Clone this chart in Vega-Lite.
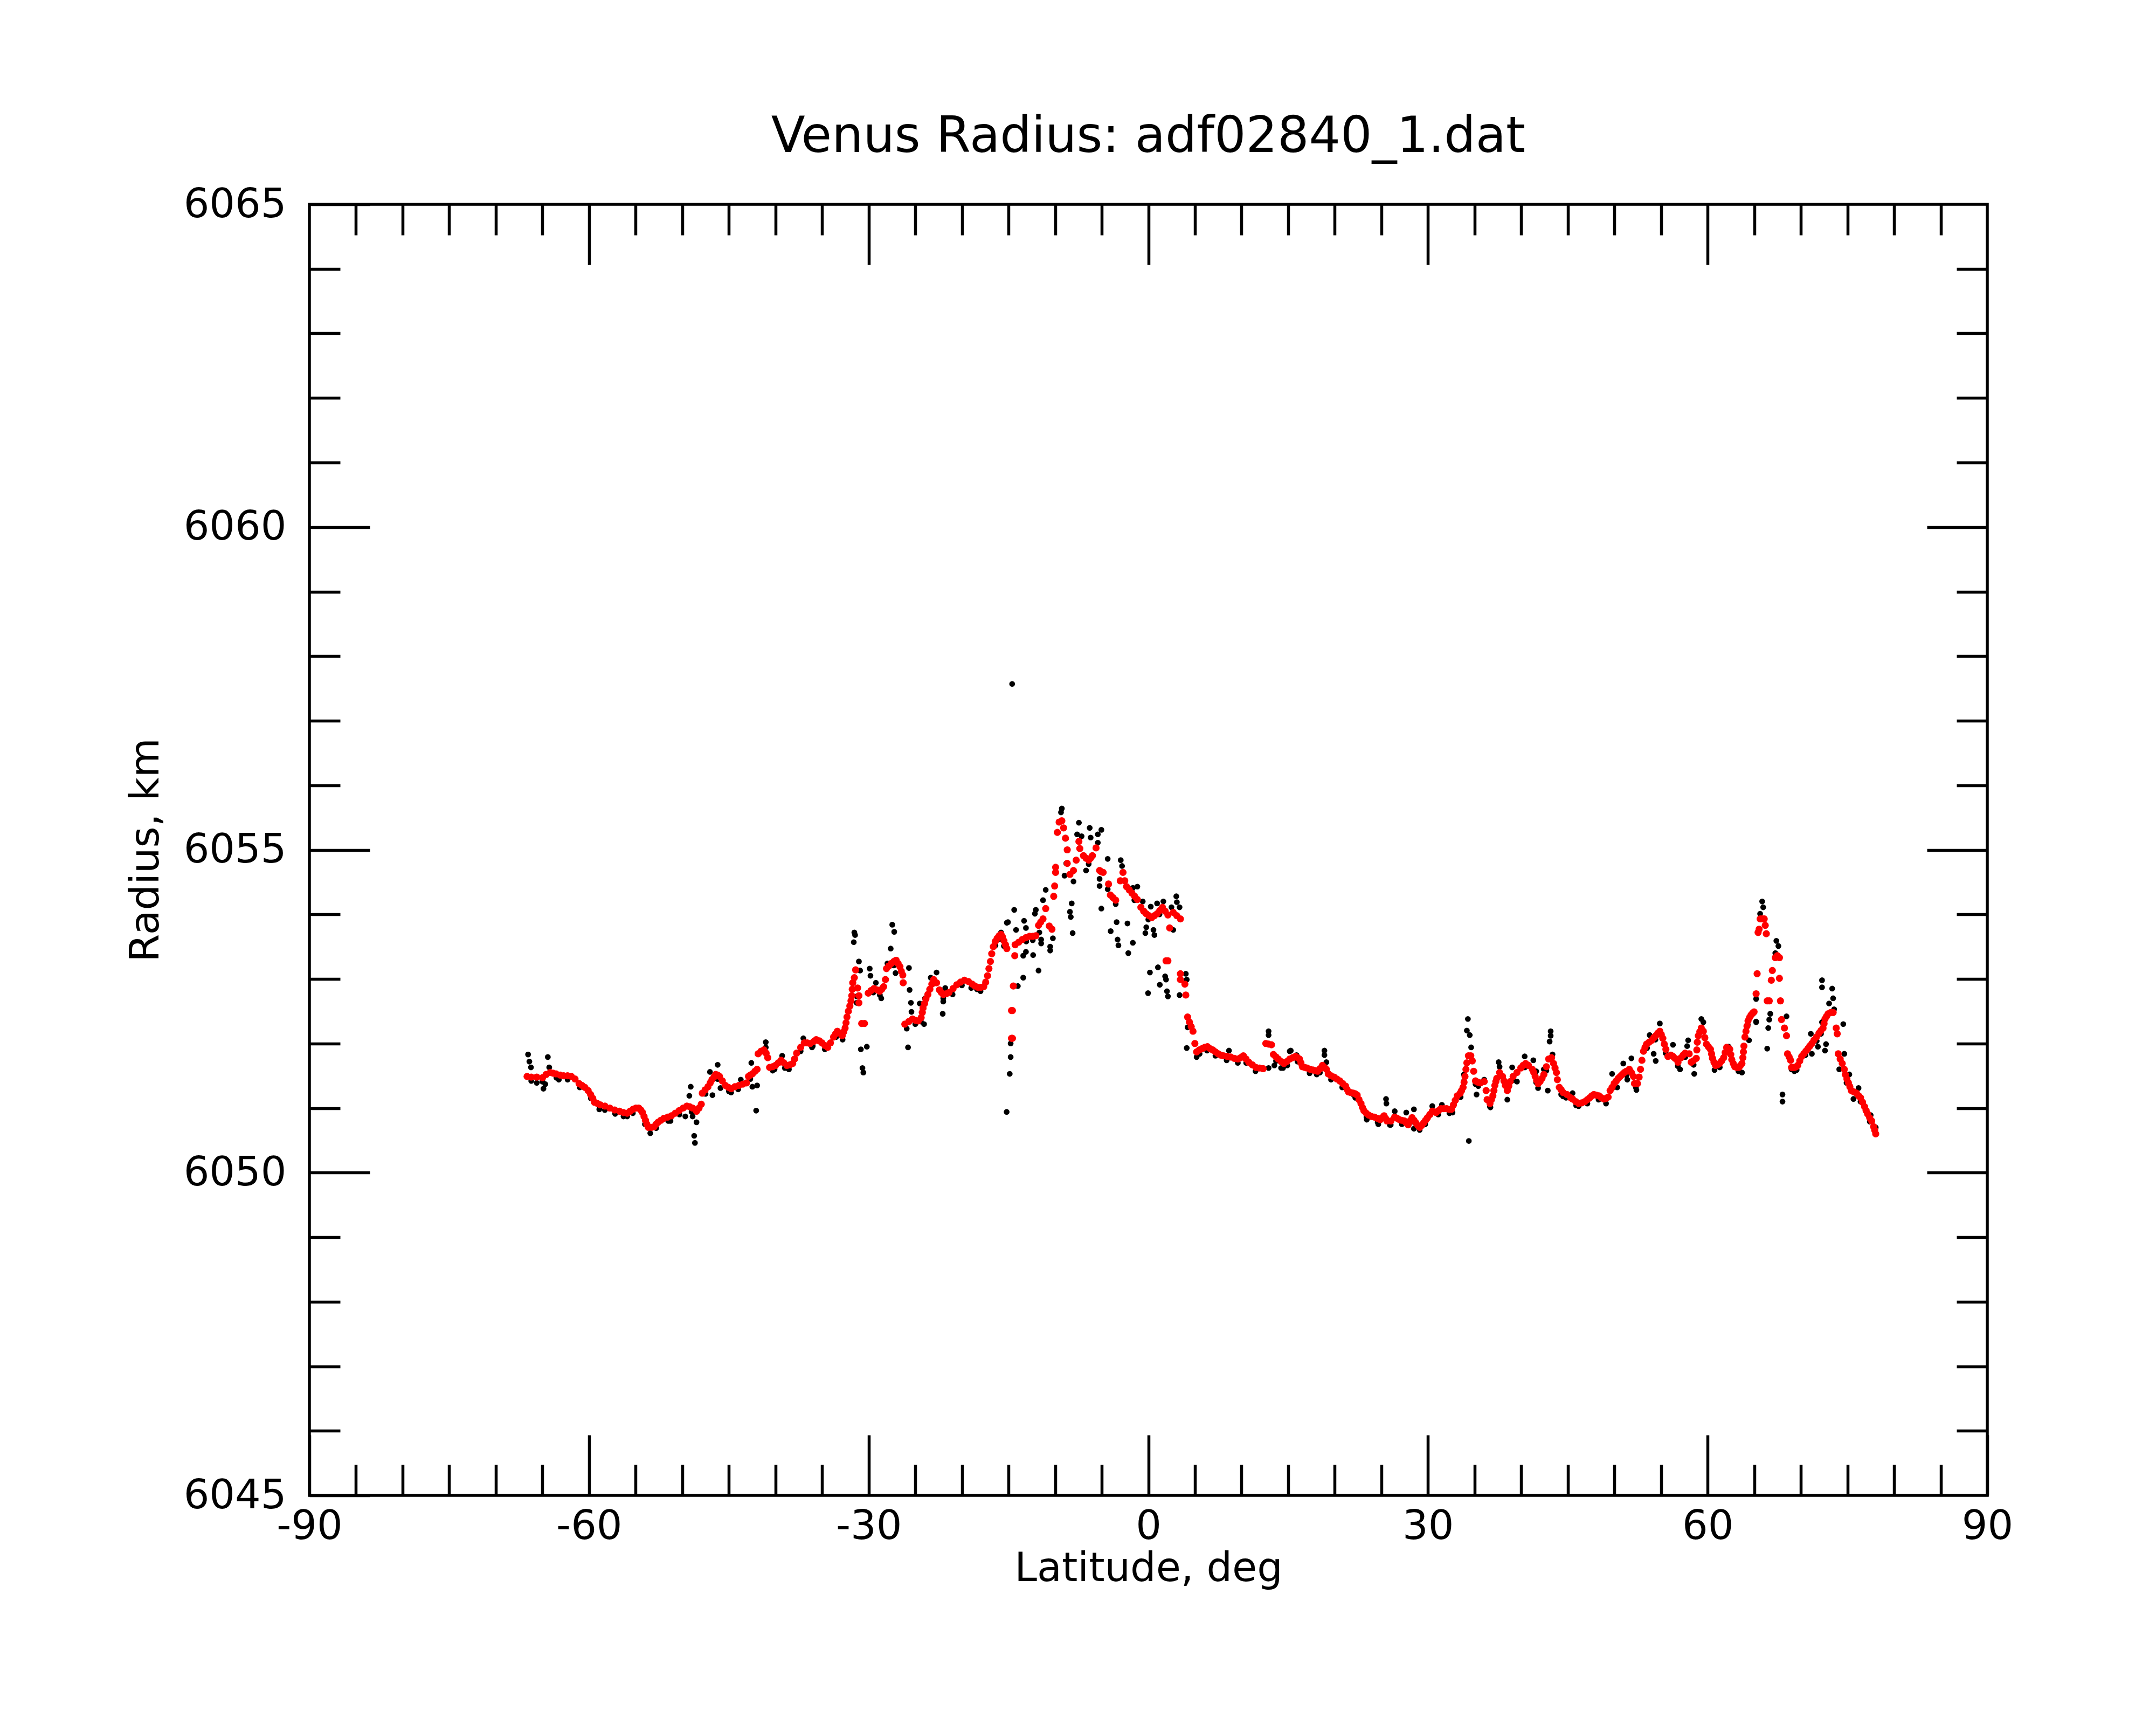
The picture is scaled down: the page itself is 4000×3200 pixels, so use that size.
{
"$schema": "https://vega.github.io/schema/vega-lite/v6.json",
"width": 3113, "height": 2395,
"autosize": {"type": "none"},
"padding": {"left": 574, "top": 379, "right": 313, "bottom": 426},
"background": "white",
"config": {
  "view": {"stroke": "black", "strokeWidth": 5.5, "fill": null},
  "font": "DejaVu Sans",
  "axis": {"grid": false, "domain": false, "tickColor": "black", "tickWidth": 5.5, "labelColor": "black", "titleColor": "black", "labelFont": "DejaVu Sans", "titleFont": "DejaVu Sans", "labelFontSize": 75, "titleFontSize": 75, "titleFontWeight": "normal", "labelFlush": false, "labelOverlap": false, "labelLimit": 0}
},
"title": {"text": "Venus Radius: adf02840_1.dat", "fontSize": 92, "fontWeight": "normal", "font": "DejaVu Sans", "color": "black", "anchor": "middle", "baseline": "alphabetic", "offset": -32, "frame": "group"},
"datasets": {
"raw": [
{"lat":-66.54,"r":6051.83},{"lat":-66.4,"r":6051.72},{"lat":-66.23,"r":6051.63},{"lat":-65.61,"r":6051.39},{"lat":-64.89,"r":6051.3},{"lat":-64.69,"r":6051.37},{"lat":-64.42,"r":6051.79},{"lat":-64.27,"r":6051.63},{"lat":-63.24,"r":6051.44},{"lat":-61.48,"r":6051.45},{"lat":-58.9,"r":6050.98},{"lat":-55.91,"r":6050.87},{"lat":-53.43,"r":6050.61},{"lat":-51.26,"r":6050.8},{"lat":-49.67,"r":6050.87},{"lat":-49.09,"r":6051.33},{"lat":-49.24,"r":6051.19},{"lat":-48.89,"r":6050.87},{"lat":-48.47,"r":6050.78},{"lat":-48.72,"r":6050.57},{"lat":-48.64,"r":6050.46},{"lat":-47.03,"r":6051.56},{"lat":-46.76,"r":6051.2},{"lat":-46.2,"r":6051.67},{"lat":-45.9,"r":6051.31},{"lat":-44.76,"r":6051.24},{"lat":-43.72,"r":6051.44},{"lat":-42.59,"r":6051.7},{"lat":-42.48,"r":6051.33},{"lat":-42.07,"r":6050.96},{"lat":-41.97,"r":6051.35},{"lat":-41.04,"r":6052.02},{"lat":-41.04,"r":6051.94},{"lat":-40.1,"r":6051.6},{"lat":-39.28,"r":6051.81},{"lat":-38.56,"r":6051.6},{"lat":-37.01,"r":6052.08},{"lat":-36.08,"r":6051.94},
{"lat":-31.54,"r":6053.72},{"lat":-31.46,"r":6053.68},{"lat":-31.6,"r":6053.57},{"lat":-31.05,"r":6053.27},{"lat":-30.92,"r":6053.13},{"lat":-31.29,"r":6052.73},{"lat":-31.29,"r":6052.63},{"lat":-30.84,"r":6051.91},{"lat":-30.2,"r":6051.95},{"lat":-30.67,"r":6051.62},{"lat":-30.57,"r":6051.55},{"lat":-29.89,"r":6053.16},{"lat":-29.81,"r":6053.05},{"lat":-29.23,"r":6052.94},{"lat":-28.65,"r":6052.7},{"lat":-27.47,"r":6053.84},{"lat":-27.26,"r":6053.73},{"lat":-27.64,"r":6053.47},{"lat":-27.99,"r":6053.24},{"lat":-27.12,"r":6053.09},{"lat":-25.68,"r":6053.17},{"lat":-25.61,"r":6052.83},{"lat":-25.47,"r":6052.63},{"lat":-25.41,"r":6052.49},{"lat":-25.92,"r":6052.23},{"lat":-25.78,"r":6051.94},{"lat":-24.06,"r":6052.3},{"lat":-24.52,"r":6052.62},{"lat":-23.96,"r":6052.7},{"lat":-23.34,"r":6053.02},{"lat":-22.72,"r":6053.1},{"lat":-22.0,"r":6052.65},{"lat":-22.06,"r":6052.46},{"lat":-21.79,"r":6052.86},{"lat":-18.38,"r":6052.84},{"lat":-15.8,"r":6053.72},{"lat":-15.18,"r":6053.87},{"lat":-15.49,"r":6053.51},{"lat":-15.2,"r":6050.94},{"lat":-14.61,"r":6057.57},
{"lat":-9.28,"r":6055.64},{"lat":-9.37,"r":6055.58},{"lat":-7.45,"r":6055.42},{"lat":-6.29,"r":6055.34},{"lat":-5.04,"r":6055.31},{"lat":-5.42,"r":6055.24},{"lat":-7.64,"r":6055.24},{"lat":-7.16,"r":6055.21},{"lat":-6.19,"r":6055.19},{"lat":-5.42,"r":6055.11},{"lat":-4.36,"r":6054.86},{"lat":-2.96,"r":6054.84},{"lat":-2.82,"r":6054.75},{"lat":-8.8,"r":6054.79},{"lat":-8.99,"r":6054.6},{"lat":-8.03,"r":6054.51},{"lat":-6.68,"r":6054.68},{"lat":-5.23,"r":6054.44},{"lat":-5.23,"r":6054.55},{"lat":-4.36,"r":6054.39},{"lat":-11.01,"r":6054.38},{"lat":-11.3,"r":6054.22},{"lat":-12.07,"r":6054.07},{"lat":-12.17,"r":6054.01},{"lat":-14.39,"r":6054.07},{"lat":-13.33,"r":6053.9},{"lat":-15.06,"r":6053.88},{"lat":-14.19,"r":6053.76},{"lat":-13.13,"r":6053.79},{"lat":-11.69,"r":6053.72},{"lat":-11.5,"r":6053.61},{"lat":-11.5,"r":6053.55},{"lat":-10.24,"r":6053.63},{"lat":-10.53,"r":6053.5},{"lat":-10.53,"r":6053.44},{"lat":-13.13,"r":6053.42},{"lat":-12.36,"r":6053.37},{"lat":-13.42,"r":6053.36},{"lat":-11.78,"r":6053.13},{"lat":-13.42,"r":6053.02},{"lat":-14.0,"r":6052.89},{"lat":-8.22,"r":6054.17},{"lat":-8.41,"r":6054.04},{"lat":-8.32,"r":6053.96},{"lat":-8.12,"r":6053.71},{"lat":-5.04,"r":6054.09},{"lat":-3.4,"r":6053.88},{"lat":-2.24,"r":6053.86},{"lat":-4.04,"r":6053.74},{"lat":-3.3,"r":6053.61},{"lat":-3.21,"r":6053.52},{"lat":-2.15,"r":6053.4},{"lat":-1.66,"r":6053.56},{"lat":-1.66,"r":6054.41},{"lat":-1.18,"r":6054.43},{"lat":-0.6,"r":6054.2},{"lat":0.26,"r":6054.12},{"lat":0.94,"r":6054.17},{"lat":1.61,"r":6054.2},{"lat":3.0,"r":6054.28},{"lat":3.06,"r":6054.19},{"lat":3.35,"r":6054.11},{"lat":2.48,"r":6054.11},{"lat":-0.22,"r":6053.8},{"lat":-0.32,"r":6053.71},{"lat":0.55,"r":6053.76},{"lat":0.65,"r":6053.68},{"lat":2.67,"r":6053.76},{"lat":0.17,"r":6053.1},{"lat":1.03,"r":6053.18},{"lat":1.8,"r":6053.04},{"lat":1.9,"r":6052.99},{"lat":1.23,"r":6052.91},{"lat":-0.03,"r":6052.78},{"lat":2.0,"r":6052.81},{"lat":2.1,"r":6052.73},{"lat":3.35,"r":6052.75},{"lat":4.02,"r":6053.08},{"lat":4.12,"r":6052.99},{"lat":4.21,"r":6052.25},{"lat":4.12,"r":6051.93},{"lat":5.18,"r":6051.79},{"lat":8.65,"r":6051.89},{"lat":-14.77,"r":6052.0},{"lat":-14.77,"r":6051.79},{"lat":-14.87,"r":6051.53},
{"lat":12.9,"r":6052.19},{"lat":12.9,"r":6052.13},{"lat":12.9,"r":6051.62},{"lat":13.52,"r":6051.66},{"lat":14.24,"r":6051.62},{"lat":14.45,"r":6051.62},{"lat":15.17,"r":6051.88},{"lat":15.28,"r":6051.89},{"lat":15.9,"r":6051.82},{"lat":18.06,"r":6051.52},{"lat":18.89,"r":6051.89},{"lat":18.89,"r":6051.82},{"lat":19.1,"r":6051.71},{"lat":21.99,"r":6051.21},{"lat":23.43,"r":6050.82},{"lat":24.67,"r":6050.75},{"lat":25.5,"r":6051.14},{"lat":25.54,"r":6051.07},{"lat":25.91,"r":6050.74},{"lat":26.43,"r":6050.95},{"lat":27.67,"r":6050.93},{"lat":28.49,"r":6050.98},{"lat":28.49,"r":6050.68},{"lat":29.11,"r":6050.66},{"lat":30.46,"r":6051.03},{"lat":31.49,"r":6051.05},{"lat":32.63,"r":6050.93},{"lat":33.35,"r":6051.21},{"lat":34.28,"r":6052.38},{"lat":34.17,"r":6052.2},{"lat":34.48,"r":6052.13},{"lat":34.63,"r":6051.94},{"lat":34.69,"r":6051.73},{"lat":33.86,"r":6051.52},{"lat":33.86,"r":6051.42},{"lat":34.38,"r":6050.49},{"lat":35.1,"r":6051.37},{"lat":35.21,"r":6051.21},{"lat":36.03,"r":6051.44},{"lat":36.24,"r":6051.27},{"lat":36.65,"r":6051.02},{"lat":37.58,"r":6051.71},{"lat":37.68,"r":6051.64},{"lat":38.51,"r":6051.13},{"lat":39.03,"r":6051.63},{"lat":39.54,"r":6051.41},{"lat":40.37,"r":6051.8},{"lat":41.3,"r":6051.74},{"lat":41.61,"r":6051.57},{"lat":41.81,"r":6051.31},{"lat":42.43,"r":6051.6},{"lat":43.16,"r":6052.19},{"lat":43.16,"r":6052.12},{"lat":43.05,"r":6052.03},{"lat":43.36,"r":6051.83},{"lat":42.85,"r":6051.27},{"lat":44.81,"r":6051.16},{"lat":44.29,"r":6051.21},
{"lat":65.85,"r":6054.2},{"lat":65.96,"r":6054.11},{"lat":65.63,"r":6054.01},{"lat":67.37,"r":6053.59},{"lat":67.59,"r":6053.51},{"lat":67.26,"r":6053.4},{"lat":65.2,"r":6052.69},{"lat":65.2,"r":6052.33},{"lat":66.72,"r":6052.46},{"lat":66.61,"r":6052.37},{"lat":66.5,"r":6052.24},{"lat":66.39,"r":6051.92},{"lat":68.46,"r":6052.42},{"lat":68.03,"r":6051.21},{"lat":68.03,"r":6051.1},{"lat":72.27,"r":6052.98},{"lat":72.27,"r":6052.87},{"lat":73.36,"r":6052.85},{"lat":73.46,"r":6052.7},{"lat":73.03,"r":6052.62},{"lat":73.57,"r":6052.53},{"lat":72.27,"r":6052.33},{"lat":72.16,"r":6052.15},{"lat":72.7,"r":6051.99},{"lat":72.59,"r":6051.89},{"lat":71.83,"r":6051.95},{"lat":71.07,"r":6052.15},{"lat":71.18,"r":6051.84},{"lat":74.55,"r":6052.3},{"lat":74.66,"r":6051.84},{"lat":74.12,"r":6051.6},{"lat":75.2,"r":6051.52},{"lat":76.19,"r":6051.31},{"lat":75.64,"r":6051.14},{"lat":77.49,"r":6050.89},{"lat":78.03,"r":6050.7},{"lat":54.87,"r":6052.31},{"lat":53.78,"r":6052.13},{"lat":54.21,"r":6051.84},{"lat":54.43,"r":6051.73},{"lat":56.28,"r":6051.98},{"lat":57.91,"r":6052.05},{"lat":57.8,"r":6051.96},{"lat":57.04,"r":6051.6},{"lat":58.56,"r":6051.53},{"lat":59.32,"r":6052.38},{"lat":59.54,"r":6052.33},{"lat":60.74,"r":6051.59},{"lat":62.26,"r":6051.95},{"lat":63.68,"r":6051.55},{"lat":64.44,"r":6052.05},{"lat":65.2,"r":6052.34},{"lat":64.87,"r":6052.46},{"lat":52.36,"r":6051.28},{"lat":50.3,"r":6051.32},{"lat":49.75,"r":6051.53},{"lat":50.95,"r":6051.69},{"lat":51.82,"r":6051.77},{"lat":51.38,"r":6051.44},{"lat":49.1,"r":6051.07},{"lat":45.51,"r":6051.23},{"lat":46.16,"r":6051.03},{"lat":69.0,"r":6051.6},{"lat":69.55,"r":6051.59},
{"lat":-66.2,"r":6051.42},{"lat":-65.0,"r":6051.41},{"lat":-63.5,"r":6051.47},{"lat":-62.3,"r":6051.44},{"lat":-61.0,"r":6051.32},{"lat":-59.8,"r":6051.15},{"lat":-58.3,"r":6050.97},{"lat":-57.2,"r":6050.91},{"lat":-56.3,"r":6050.87},{"lat":-55.3,"r":6050.92},{"lat":-54.0,"r":6050.75},{"lat":-52.8,"r":6050.69},{"lat":-51.5,"r":6050.8},{"lat":-50.3,"r":6050.9},{"lat":-49.0,"r":6050.94},{"lat":-47.5,"r":6051.22},{"lat":-46.2,"r":6051.45},{"lat":-45.0,"r":6051.26},{"lat":-44.0,"r":6051.29},{"lat":-42.7,"r":6051.45},{"lat":-40.3,"r":6051.58},{"lat":-39.0,"r":6051.62},{"lat":-37.3,"r":6051.88},{"lat":-36.0,"r":6051.96},{"lat":-34.7,"r":6051.91},{"lat":-33.5,"r":6052.1},{"lat":-32.8,"r":6052.06},{"lat":-29.5,"r":6052.79},{"lat":-28.8,"r":6052.75},{"lat":-27.3,"r":6053.21},{"lat":-25.0,"r":6052.3},{"lat":-24.4,"r":6052.34},{"lat":-23.0,"r":6052.93},{"lat":-22.0,"r":6052.7},{"lat":-21.0,"r":6052.76},{"lat":-20.0,"r":6052.9},{"lat":-19.0,"r":6052.86},{"lat":-18.0,"r":6052.81},{"lat":-16.4,"r":6053.52},{"lat":-15.9,"r":6053.62},{"lat":-13.1,"r":6053.58},{"lat":-12.4,"r":6053.6},{"lat":-6.4,"r":6054.78},{"lat":-3.5,"r":6054.16},{"lat":-1.5,"r":6054.22},{"lat":0.0,"r":6053.92},{"lat":1.2,"r":6054.0},{"lat":5.5,"r":6051.84},{"lat":6.3,"r":6051.89},{"lat":7.2,"r":6051.81},{"lat":8.4,"r":6051.74},{"lat":9.6,"r":6051.7},{"lat":10.5,"r":6051.7},{"lat":11.5,"r":6051.57},{"lat":13.7,"r":6051.73},{"lat":14.9,"r":6051.66},{"lat":16.0,"r":6051.72},{"lat":17.3,"r":6051.54},{"lat":18.4,"r":6051.55},{"lat":19.6,"r":6051.44},{"lat":20.8,"r":6051.32},{"lat":22.2,"r":6051.16},{"lat":23.4,"r":6050.86},{"lat":24.6,"r":6050.78},{"lat":26.0,"r":6050.74},{"lat":27.2,"r":6050.75},{"lat":28.3,"r":6050.79},{"lat":29.7,"r":6050.75},{"lat":31.1,"r":6050.9},{"lat":32.3,"r":6050.92},{"lat":33.5,"r":6051.17},{"lat":35.4,"r":6051.34},{"lat":36.7,"r":6051.01},{"lat":37.7,"r":6051.49},{"lat":39.1,"r":6051.43},{"lat":40.4,"r":6051.63},{"lat":41.6,"r":6051.4},{"lat":42.7,"r":6051.58},{"lat":44.5,"r":6051.18},{"lat":45.9,"r":6051.04},{"lat":47.1,"r":6051.07},{"lat":48.3,"r":6051.13},{"lat":49.9,"r":6051.32},{"lat":51.3,"r":6051.51},{"lat":52.3,"r":6051.32},{"lat":53.5,"r":6051.93},{"lat":54.4,"r":6052.06},{"lat":55.5,"r":6051.85},{"lat":56.8,"r":6051.65},{"lat":57.6,"r":6051.79},{"lat":58.5,"r":6051.67},{"lat":59.3,"r":6052.18},{"lat":60.4,"r":6051.84},{"lat":61.3,"r":6051.63},{"lat":62.4,"r":6051.85},{"lat":63.3,"r":6051.57},{"lat":64.3,"r":6052.29},{"lat":69.3,"r":6051.57},{"lat":70.5,"r":6051.82},{"lat":71.7,"r":6052.04},{"lat":74.9,"r":6051.39},{"lat":76.4,"r":6051.1},{"lat":77.4,"r":6050.79}
],
"smooth": [
{"lat":-66.65,"r":6051.49},{"lat":-66.2,"r":6051.48},{"lat":-65.61,"r":6051.48},{"lat":-64.99,"r":6051.47},{"lat":-64.6,"r":6051.52},{"lat":-64.17,"r":6051.55},{"lat":-63.85,"r":6051.54},{"lat":-63.55,"r":6051.53},{"lat":-63.1,"r":6051.51},{"lat":-62.72,"r":6051.5},{"lat":-62.3,"r":6051.5},{"lat":-61.9,"r":6051.49},{"lat":-61.5,"r":6051.45},{"lat":-61.07,"r":6051.38},{"lat":-60.75,"r":6051.35},{"lat":-60.45,"r":6051.32},{"lat":-60.1,"r":6051.27},{"lat":-59.83,"r":6051.21},{"lat":-59.6,"r":6051.15},{"lat":-59.42,"r":6051.09},{"lat":-59.1,"r":6051.07},{"lat":-58.8,"r":6051.05},{"lat":-58.3,"r":6051.03},{"lat":-57.77,"r":6051.0},{"lat":-57.25,"r":6050.97},{"lat":-56.73,"r":6050.95},{"lat":-56.3,"r":6050.93},{"lat":-55.91,"r":6050.92},{"lat":-55.6,"r":6050.95},{"lat":-55.29,"r":6050.98},{"lat":-54.97,"r":6051.0},{"lat":-54.67,"r":6051.0},{"lat":-54.45,"r":6050.97},{"lat":-54.26,"r":6050.93},{"lat":-54.1,"r":6050.87},{"lat":-53.95,"r":6050.81},{"lat":-53.8,"r":6050.75},{"lat":-53.64,"r":6050.7},{"lat":-53.3,"r":6050.7},{"lat":-53.02,"r":6050.71},{"lat":-52.8,"r":6050.75},{"lat":-52.6,"r":6050.78},{"lat":-52.3,"r":6050.81},{"lat":-51.98,"r":6050.84},{"lat":-51.55,"r":6050.86},{"lat":-51.16,"r":6050.88},{"lat":-50.75,"r":6050.92},{"lat":-50.33,"r":6050.96},{"lat":-49.9,"r":6051.0},{"lat":-49.51,"r":6051.03},{"lat":-49.2,"r":6051.02},{"lat":-48.89,"r":6051.0},{"lat":-48.47,"r":6050.95},{"lat":-48.2,"r":6051.0},{"lat":-47.96,"r":6051.06},{"lat":-47.85,"r":6051.23},{"lat":-47.55,"r":6051.28},{"lat":-47.24,"r":6051.33},{"lat":-47.0,"r":6051.39},{"lat":-46.82,"r":6051.44},{"lat":-46.6,"r":6051.48},{"lat":-46.41,"r":6051.52},{"lat":-46.2,"r":6051.51},{"lat":-46.0,"r":6051.49},{"lat":-45.7,"r":6051.42},{"lat":-45.37,"r":6051.35},{"lat":-45.05,"r":6051.32},{"lat":-44.76,"r":6051.3},{"lat":-44.35,"r":6051.33},{"lat":-43.93,"r":6051.35},{"lat":-43.5,"r":6051.37},{"lat":-43.1,"r":6051.39},{"lat":-42.9,"r":6051.49},{"lat":-42.7,"r":6051.51},{"lat":-42.48,"r":6051.53},{"lat":-42.2,"r":6051.57},{"lat":-41.97,"r":6051.6},{"lat":-41.86,"r":6051.84},{"lat":-41.55,"r":6051.88},{"lat":-41.24,"r":6051.9},{"lat":-41.0,"r":6051.85},{"lat":-40.83,"r":6051.78},{"lat":-40.63,"r":6051.63},{"lat":-40.3,"r":6051.64},{"lat":-40.0,"r":6051.66},{"lat":-39.7,"r":6051.7},{"lat":-39.39,"r":6051.74},{"lat":-39.1,"r":6051.7},{"lat":-38.77,"r":6051.66},{"lat":-38.45,"r":6051.67},{"lat":-38.15,"r":6051.69},{"lat":-37.95,"r":6051.76},{"lat":-37.73,"r":6051.85},{"lat":-37.3,"r":6051.94},{"lat":-36.91,"r":6052.01},{"lat":-36.6,"r":6052.01},{"lat":-36.29,"r":6052.0},{"lat":-35.9,"r":6052.03},
{"lat":-35.63,"r":6052.06},{"lat":-35.3,"r":6052.04},{"lat":-35.01,"r":6052.01},{"lat":-34.7,"r":6051.97},{"lat":-34.39,"r":6051.94},{"lat":-34.1,"r":6052.01},{"lat":-33.77,"r":6052.1},{"lat":-33.55,"r":6052.15},{"lat":-33.36,"r":6052.19},{"lat":-33.1,"r":6052.16},{"lat":-32.84,"r":6052.12},{"lat":-32.68,"r":6052.18},{"lat":-32.53,"r":6052.24},{"lat":-32.43,"r":6052.32},{"lat":-32.33,"r":6052.41},{"lat":-32.18,"r":6052.5},{"lat":-32.02,"r":6052.58},{"lat":-31.9,"r":6052.66},{"lat":-31.81,"r":6052.74},{"lat":-31.76,"r":6052.84},{"lat":-31.71,"r":6052.94},{"lat":-31.54,"r":6053.02},{"lat":-31.4,"r":6053.14},{"lat":-31.19,"r":6052.86},{"lat":-31.05,"r":6052.74},{"lat":-31.05,"r":6052.63},{"lat":-30.75,"r":6052.31},{"lat":-30.45,"r":6052.31},{"lat":-30.05,"r":6052.78},{"lat":-29.75,"r":6052.82},{"lat":-29.43,"r":6052.85},{"lat":-29.1,"r":6052.83},{"lat":-28.81,"r":6052.81},{"lat":-28.6,"r":6052.84},{"lat":-28.4,"r":6052.88},{"lat":-28.2,"r":6052.99},{"lat":-28.09,"r":6053.16},{"lat":-27.85,"r":6053.2},{"lat":-27.58,"r":6053.24},{"lat":-27.3,"r":6053.27},{"lat":-27.06,"r":6053.29},{"lat":-26.85,"r":6053.24},{"lat":-26.65,"r":6053.19},{"lat":-26.5,"r":6053.12},{"lat":-26.34,"r":6053.06},{"lat":-26.3,"r":6052.94},{"lat":-26.13,"r":6052.3},{"lat":-25.7,"r":6052.34},{"lat":-25.3,"r":6052.38},{"lat":-25.0,"r":6052.36},{"lat":-24.68,"r":6052.35},{"lat":-24.37,"r":6052.4},{"lat":-24.25,"r":6052.48},{"lat":-24.17,"r":6052.55},{"lat":-24.0,"r":6052.62},{"lat":-23.86,"r":6052.69},{"lat":-23.65,"r":6052.76},{"lat":-23.44,"r":6052.84},{"lat":-23.23,"r":6052.92},{"lat":-23.03,"r":6052.99},{"lat":-22.72,"r":6052.94},{"lat":-22.41,"r":6052.83},{"lat":-22.2,"r":6052.79},{"lat":-22.0,"r":6052.76},{"lat":-21.7,"r":6052.77},{"lat":-21.38,"r":6052.79},{"lat":-20.95,"r":6052.85},{"lat":-20.55,"r":6052.91},{"lat":-20.15,"r":6052.95},{"lat":-19.73,"r":6052.98},{"lat":-19.3,"r":6052.96},{"lat":-18.9,"r":6052.92},{"lat":-18.6,"r":6052.89},{"lat":-18.28,"r":6052.87},{"lat":-17.97,"r":6052.87},{"lat":-17.66,"r":6052.88},{"lat":-17.45,"r":6052.95},{"lat":-17.25,"r":6053.05},{"lat":-17.1,"r":6053.16},{"lat":-16.94,"r":6053.27},{"lat":-16.8,"r":6053.39},{"lat":-16.63,"r":6053.5},{"lat":-16.42,"r":6053.58},{"lat":-16.22,"r":6053.63},{"lat":-16.0,"r":6053.67},{"lat":-15.8,"r":6053.69},{"lat":-15.65,"r":6053.65},{"lat":-15.49,"r":6053.59},{"lat":-15.33,"r":6053.53},{"lat":-15.18,"r":6053.47},
{"lat":-14.68,"r":6052.51},{"lat":-14.58,"r":6052.51},{"lat":-14.68,"r":6052.08},{"lat":-14.58,"r":6052.08},{"lat":-14.48,"r":6052.89},{"lat":-14.33,"r":6053.36},{"lat":-14.29,"r":6053.53},{"lat":-13.9,"r":6053.57},{"lat":-13.52,"r":6053.61},{"lat":-13.13,"r":6053.64},{"lat":-12.75,"r":6053.66},{"lat":-12.4,"r":6053.66},{"lat":-12.07,"r":6053.67},{"lat":-11.78,"r":6053.83},{"lat":-11.55,"r":6053.88},{"lat":-11.3,"r":6053.93},{"lat":-11.01,"r":6054.09},{"lat":-10.63,"r":6053.82},{"lat":-10.34,"r":6053.77},{"lat":-10.15,"r":6054.28},{"lat":-10.05,"r":6054.44},{"lat":-9.95,"r":6054.65},{"lat":-9.95,"r":6054.73},{"lat":-9.76,"r":6055.27},{"lat":-9.57,"r":6055.43},{"lat":-9.28,"r":6055.45},{"lat":-9.09,"r":6055.34},{"lat":-8.89,"r":6055.18},{"lat":-8.7,"r":6055.0},{"lat":-8.7,"r":6054.79},{"lat":-8.41,"r":6054.62},{"lat":-8.03,"r":6054.68},{"lat":-7.74,"r":6054.84},{"lat":-7.45,"r":6055.13},{"lat":-7.35,"r":6055.02},{"lat":-6.96,"r":6054.91},{"lat":-6.68,"r":6054.87},{"lat":-6.39,"r":6054.84},{"lat":-6.2,"r":6054.87},{"lat":-6.0,"r":6054.91},{"lat":-5.61,"r":6055.03},{"lat":-5.23,"r":6054.68},{"lat":-5.04,"r":6054.66},{"lat":-4.85,"r":6054.65},{"lat":-4.27,"r":6054.47},{"lat":-4.07,"r":6054.3},{"lat":-3.8,"r":6054.26},{"lat":-3.5,"r":6054.22},{"lat":-3.01,"r":6054.52},{"lat":-2.72,"r":6054.65},{"lat":-2.53,"r":6054.52},{"lat":-2.34,"r":6054.43},{"lat":-2.05,"r":6054.38},{"lat":-1.76,"r":6054.33},{"lat":-1.47,"r":6054.28},{"lat":-1.18,"r":6054.23},{"lat":-0.8,"r":6054.11},{"lat":-0.5,"r":6054.05},{"lat":-0.22,"r":6054.01},{"lat":0.06,"r":6053.98},{"lat":0.36,"r":6053.95},{"lat":0.65,"r":6053.98},{"lat":0.94,"r":6054.01},{"lat":1.23,"r":6054.06},{"lat":1.52,"r":6054.11},{"lat":1.8,"r":6054.05},{"lat":2.1,"r":6053.99},{"lat":2.29,"r":6053.79},{"lat":2.67,"r":6054.03},{"lat":3.05,"r":6053.98},{"lat":3.44,"r":6053.93},{"lat":1.9,"r":6053.28},{"lat":2.1,"r":6053.28},{"lat":3.44,"r":6053.08},{"lat":3.44,"r":6052.99},{"lat":3.92,"r":6052.92},{"lat":4.02,"r":6052.75},{"lat":4.21,"r":6052.41},{"lat":4.41,"r":6052.33},{"lat":4.6,"r":6052.26},{"lat":4.79,"r":6052.19},{"lat":4.99,"r":6052.0},{"lat":5.18,"r":6051.87},{"lat":5.47,"r":6051.9},{"lat":5.76,"r":6051.92},{"lat":6.05,"r":6051.94},{"lat":6.34,"r":6051.95},{"lat":6.62,"r":6051.92},{"lat":6.91,"r":6051.9},{"lat":7.2,"r":6051.87},{"lat":7.49,"r":6051.84},{"lat":7.78,"r":6051.82},{"lat":8.07,"r":6051.81},{"lat":8.45,"r":6051.8},{"lat":8.84,"r":6051.79},{"lat":9.22,"r":6051.77},{"lat":9.61,"r":6051.76},{"lat":9.9,"r":6051.78},{"lat":10.19,"r":6051.81},{"lat":10.48,"r":6051.76},{"lat":10.77,"r":6051.71},{"lat":11.15,"r":6051.67},{"lat":11.54,"r":6051.63},{"lat":11.93,"r":6051.62},{"lat":12.31,"r":6051.61},{"lat":12.6,"r":6052.0},
{"lat":12.9,"r":6051.99},{"lat":13.21,"r":6051.98},{"lat":13.42,"r":6051.83},{"lat":13.7,"r":6051.79},{"lat":13.93,"r":6051.76},{"lat":14.25,"r":6051.72},{"lat":14.55,"r":6051.69},{"lat":14.85,"r":6051.72},{"lat":15.17,"r":6051.76},{"lat":15.48,"r":6051.78},{"lat":15.79,"r":6051.8},{"lat":16.0,"r":6051.78},{"lat":16.21,"r":6051.76},{"lat":16.37,"r":6051.7},{"lat":16.52,"r":6051.64},{"lat":16.78,"r":6051.63},{"lat":17.03,"r":6051.62},{"lat":17.35,"r":6051.6},{"lat":17.65,"r":6051.59},{"lat":17.9,"r":6051.58},{"lat":18.17,"r":6051.57},{"lat":18.42,"r":6051.61},{"lat":18.68,"r":6051.66},{"lat":18.9,"r":6051.63},{"lat":19.1,"r":6051.6},{"lat":19.3,"r":6051.53},{"lat":19.6,"r":6051.5},{"lat":19.92,"r":6051.48},{"lat":20.23,"r":6051.45},{"lat":20.54,"r":6051.42},{"lat":20.85,"r":6051.38},{"lat":21.16,"r":6051.34},{"lat":21.32,"r":6051.29},{"lat":21.47,"r":6051.25},{"lat":21.73,"r":6051.24},{"lat":21.99,"r":6051.23},{"lat":22.2,"r":6051.22},{"lat":22.4,"r":6051.2},{"lat":22.6,"r":6051.13},{"lat":22.81,"r":6051.07},{"lat":22.97,"r":6051.01},{"lat":23.12,"r":6050.96},{"lat":23.38,"r":6050.92},{"lat":23.64,"r":6050.89},{"lat":23.95,"r":6050.87},{"lat":24.26,"r":6050.86},{"lat":24.57,"r":6050.84},{"lat":24.88,"r":6050.82},{"lat":25.08,"r":6050.85},{"lat":25.29,"r":6050.88},{"lat":25.45,"r":6050.84},{"lat":25.6,"r":6050.8},{"lat":26.02,"r":6050.8},{"lat":26.43,"r":6050.86},{"lat":26.7,"r":6050.84},{"lat":26.94,"r":6050.82},{"lat":27.2,"r":6050.81},{"lat":27.46,"r":6050.8},{"lat":27.67,"r":6050.77},{"lat":27.87,"r":6050.74},{"lat":28.08,"r":6050.8},{"lat":28.29,"r":6050.85},{"lat":28.5,"r":6050.81},{"lat":28.7,"r":6050.77},{"lat":28.9,"r":6050.73},{"lat":29.11,"r":6050.7},{"lat":29.32,"r":6050.73},{"lat":29.53,"r":6050.77},{"lat":29.74,"r":6050.81},{"lat":29.94,"r":6050.85},{"lat":30.2,"r":6050.9},{"lat":30.46,"r":6050.95},{"lat":30.66,"r":6050.94},{"lat":30.87,"r":6050.93},{"lat":31.13,"r":6050.96},{"lat":31.39,"r":6050.99},{"lat":31.7,"r":6050.99},{"lat":32.0,"r":6050.99},{"lat":32.26,"r":6050.98},{"lat":32.52,"r":6050.98},{"lat":32.73,"r":6051.05},{"lat":32.93,"r":6051.12},{"lat":33.14,"r":6051.19},{"lat":33.45,"r":6051.23},{"lat":33.6,"r":6051.27},{"lat":33.76,"r":6051.32},{"lat":33.87,"r":6051.4},{"lat":33.97,"r":6051.49},{"lat":34.07,"r":6051.6},{"lat":34.17,"r":6051.7},{"lat":34.34,"r":6051.81},{"lat":34.59,"r":6051.81},{"lat":34.75,"r":6051.73},{"lat":34.9,"r":6051.57},{"lat":35.1,"r":6051.42},{"lat":35.36,"r":6051.4},{"lat":35.62,"r":6051.39},{"lat":36.03,"r":6051.41},{"lat":36.24,"r":6051.27},{"lat":36.34,"r":6051.13},{"lat":36.65,"r":6051.07},{"lat":36.8,"r":6051.13},{"lat":36.96,"r":6051.19},{"lat":37.07,"r":6051.27},{"lat":37.17,"r":6051.35},{"lat":37.28,"r":6051.41},{"lat":37.38,"r":6051.46},{"lat":37.68,"r":6051.55},{"lat":38.0,"r":6051.49},{"lat":38.15,"r":6051.42},{"lat":38.3,"r":6051.35},{"lat":38.51,"r":6051.27},{"lat":38.67,"r":6051.34},{"lat":38.82,"r":6051.41},{"lat":39.13,"r":6051.49},{"lat":39.54,"r":6051.55},{"lat":39.96,"r":6051.62},{"lat":40.2,"r":6051.66},{"lat":40.47,"r":6051.69},{"lat":40.78,"r":6051.66},{"lat":41.19,"r":6051.6},{"lat":41.35,"r":6051.55},{"lat":41.5,"r":6051.49},{"lat":41.65,"r":6051.43},{"lat":41.81,"r":6051.38},{"lat":42.02,"r":6051.41},{"lat":42.23,"r":6051.46},{"lat":42.43,"r":6051.52},{"lat":42.7,"r":6051.64},{"lat":42.95,"r":6051.76},{"lat":43.26,"r":6051.78},{"lat":43.47,"r":6051.69},{"lat":43.63,"r":6051.62},{"lat":43.78,"r":6051.55},{"lat":43.88,"r":6051.44},{"lat":44.09,"r":6051.32},{"lat":44.3,"r":6051.28},{"lat":44.5,"r":6051.24},{"lat":44.91,"r":6051.21},
{"lat":45.3,"r":6051.16},{"lat":45.51,"r":6051.14},{"lat":45.85,"r":6051.1},{"lat":46.16,"r":6051.07},{"lat":46.5,"r":6051.08},{"lat":46.82,"r":6051.1},{"lat":47.1,"r":6051.13},{"lat":47.36,"r":6051.16},{"lat":47.58,"r":6051.19},{"lat":47.8,"r":6051.21},{"lat":48.05,"r":6051.2},{"lat":48.34,"r":6051.19},{"lat":48.6,"r":6051.16},{"lat":48.88,"r":6051.14},{"lat":49.1,"r":6051.15},{"lat":49.32,"r":6051.17},{"lat":49.54,"r":6051.27},{"lat":49.75,"r":6051.32},{"lat":49.97,"r":6051.38},{"lat":50.2,"r":6051.42},{"lat":50.41,"r":6051.46},{"lat":50.62,"r":6051.49},{"lat":50.84,"r":6051.52},{"lat":51.06,"r":6051.55},{"lat":51.28,"r":6051.57},{"lat":51.6,"r":6051.6},{"lat":51.82,"r":6051.55},{"lat":52.04,"r":6051.49},{"lat":52.15,"r":6051.38},{"lat":52.3,"r":6051.38},{"lat":52.47,"r":6051.38},{"lat":52.65,"r":6051.48},{"lat":52.8,"r":6051.6},{"lat":52.95,"r":6051.74},{"lat":53.12,"r":6051.88},{"lat":53.28,"r":6051.94},{"lat":53.45,"r":6051.99},{"lat":53.72,"r":6052.02},{"lat":54.0,"r":6052.05},{"lat":54.22,"r":6052.09},{"lat":54.43,"r":6052.12},{"lat":54.65,"r":6052.16},{"lat":54.87,"r":6052.19},{"lat":55.03,"r":6052.14},{"lat":55.19,"r":6052.08},{"lat":55.35,"r":6051.99},{"lat":55.52,"r":6051.91},{"lat":55.74,"r":6051.8},{"lat":56.06,"r":6051.82},{"lat":56.28,"r":6051.8},{"lat":56.5,"r":6051.77},{"lat":56.82,"r":6051.71},{"lat":57.15,"r":6051.78},{"lat":57.37,"r":6051.82},{"lat":57.59,"r":6051.85},{"lat":58.02,"r":6051.84},{"lat":58.24,"r":6051.71},{"lat":58.45,"r":6051.73},{"lat":58.78,"r":6051.77},{"lat":58.84,"r":6051.9},{"lat":58.89,"r":6052.02},{"lat":59.0,"r":6052.12},{"lat":59.16,"r":6052.18},{"lat":59.32,"r":6052.24},{"lat":59.54,"r":6052.19},{"lat":59.7,"r":6052.09},{"lat":59.87,"r":6051.99},{"lat":60.08,"r":6051.95},{"lat":60.3,"r":6051.91},{"lat":60.42,"r":6051.84},{"lat":60.52,"r":6051.77},{"lat":60.68,"r":6051.71},{"lat":60.85,"r":6051.66},{"lat":61.06,"r":6051.67},{"lat":61.28,"r":6051.69},{"lat":61.5,"r":6051.73},{"lat":61.72,"r":6051.78},{"lat":61.88,"r":6051.86},{"lat":62.04,"r":6051.94},{"lat":62.2,"r":6051.93},{"lat":62.37,"r":6051.91},{"lat":62.48,"r":6051.83},{"lat":62.59,"r":6051.75},{"lat":62.75,"r":6051.69},{"lat":62.91,"r":6051.64},{"lat":63.13,"r":6051.63},{"lat":63.35,"r":6051.63},{"lat":63.52,"r":6051.66},{"lat":63.68,"r":6051.69},{"lat":63.78,"r":6051.78},{"lat":63.84,"r":6051.87},{"lat":63.89,"r":6051.96},{"lat":64.0,"r":6052.1},{"lat":64.11,"r":6052.19},{"lat":64.22,"r":6052.27},{"lat":64.33,"r":6052.35},{"lat":64.49,"r":6052.4},{"lat":64.65,"r":6052.44},{"lat":64.82,"r":6052.47},{"lat":64.98,"r":6052.49},{"lat":65.2,"r":6052.77},{"lat":65.31,"r":6053.08},{"lat":65.41,"r":6053.72},{"lat":65.52,"r":6053.77},{"lat":65.63,"r":6053.93},{"lat":65.85,"r":6053.93},{"lat":66.07,"r":6053.93},{"lat":66.18,"r":6053.83},{"lat":66.29,"r":6053.7},{"lat":66.39,"r":6052.66},{"lat":66.61,"r":6052.66},{"lat":66.83,"r":6052.98},{"lat":66.94,"r":6053.13},{"lat":67.26,"r":6053.33},{"lat":67.48,"r":6053.36},{"lat":67.7,"r":6053.33},{"lat":67.7,"r":6053.01},{"lat":67.81,"r":6052.66},{"lat":67.92,"r":6052.37},{"lat":68.24,"r":6052.24},{"lat":68.46,"r":6052.12},{"lat":68.57,"r":6051.84},{"lat":68.75,"r":6051.79},{"lat":68.9,"r":6051.74},{"lat":69.0,"r":6051.63},{"lat":69.17,"r":6051.63},{"lat":69.33,"r":6051.63},{"lat":69.5,"r":6051.64},{"lat":69.66,"r":6051.66},{"lat":69.88,"r":6051.73},{"lat":70.09,"r":6051.8},{"lat":70.31,"r":6051.84},{"lat":70.53,"r":6051.88},{"lat":70.75,"r":6051.92},{"lat":70.96,"r":6051.96},{"lat":71.18,"r":6052.0},{"lat":71.4,"r":6052.05},{"lat":71.67,"r":6052.1},{"lat":71.94,"r":6052.16},{"lat":72.16,"r":6052.2},{"lat":72.38,"r":6052.24},{"lat":72.49,"r":6052.31},{"lat":72.59,"r":6052.38},{"lat":72.75,"r":6052.42},{"lat":72.92,"r":6052.46},{"lat":73.2,"r":6052.48},{"lat":73.46,"r":6052.48},{"lat":73.79,"r":6052.24},{"lat":73.9,"r":6052.15},{"lat":74.01,"r":6051.84},{"lat":74.22,"r":6051.76},{"lat":74.44,"r":6051.69},{"lat":74.66,"r":6051.6},{"lat":74.77,"r":6051.52},{"lat":74.94,"r":6051.45},{"lat":75.1,"r":6051.39},{"lat":75.26,"r":6051.33},{"lat":75.42,"r":6051.27},{"lat":75.7,"r":6051.25},{"lat":75.97,"r":6051.23},{"lat":76.2,"r":6051.19},{"lat":76.4,"r":6051.16},{"lat":76.62,"r":6051.09},{"lat":76.84,"r":6051.02},{"lat":77.0,"r":6050.96},{"lat":77.16,"r":6050.91},{"lat":77.38,"r":6050.85},{"lat":77.6,"r":6050.8},{"lat":77.81,"r":6050.71},{"lat":77.92,"r":6050.66},{"lat":78.03,"r":6050.6}
]
},
"layer": [
{"data": {"name": "raw"},
 "mark": {"type": "point", "filled": true, "shape": "circle", "color": "black", "size": 115, "opacity": 1, "strokeWidth": 0},
 "encoding": {
  "x": {"field": "lat", "type": "quantitative", "scale": {"domain": [-90, 90], "nice": false, "zero": false},
        "axis": {"orient": "bottom", "values": [-90, -60, -30, 0, 30, 60, 90], "tickSize": -112, "labelPadding": 133, "labelExpr": "toString(datum.value)", "title": "Latitude, deg", "titlePadding": 4}},
  "y": {"field": "r", "type": "quantitative", "scale": {"domain": [6045, 6065], "nice": false, "zero": false},
        "axis": {"orient": "left", "values": [6045, 6050, 6055, 6060, 6065], "tickSize": -112, "labelPadding": 155, "labelExpr": "toString(datum.value)", "title": "Radius, km", "titlePadding": 65}}
 }},
{"data": {"name": "smooth"},
 "mark": {"type": "point", "filled": true, "shape": "circle", "color": "#ff0000", "size": 175, "opacity": 1, "strokeWidth": 0},
 "encoding": {
  "x": {"field": "lat", "type": "quantitative", "scale": {"domain": [-90, 90], "nice": false, "zero": false},
        "axis": {"orient": "bottom", "values": [-85,-80,-75,-70,-65,-55,-50,-45,-40,-35,-25,-20,-15,-10,-5,5,10,15,20,25,35,40,45,50,55,65,70,75,80,85], "tickSize": -57, "labels": false, "title": null}},
  "y": {"field": "r", "type": "quantitative", "scale": {"domain": [6045, 6065], "nice": false, "zero": false},
        "axis": {"orient": "left", "values": [6046,6047,6048,6049,6051,6052,6053,6054,6056,6057,6058,6059,6061,6062,6063,6064], "tickSize": -57, "labels": false, "title": null}}
 }},
{"data": {"values": []},
 "mark": {"type": "point", "opacity": 0},
 "encoding": {
  "x": {"field": "lat", "type": "quantitative", "scale": {"domain": [-90, 90], "nice": false, "zero": false},
        "axis": {"orient": "top", "values": [-60, -30, 0, 30, 60], "tickSize": -112, "labels": false, "title": null}},
  "y": {"field": "r", "type": "quantitative", "scale": {"domain": [6045, 6065], "nice": false, "zero": false},
        "axis": {"orient": "right", "values": [6050, 6055, 6060], "tickSize": -112, "labels": false, "title": null}}
 }},
{"data": {"values": []},
 "mark": {"type": "point", "opacity": 0},
 "encoding": {
  "x": {"field": "lat", "type": "quantitative", "scale": {"domain": [-90, 90], "nice": false, "zero": false},
        "axis": {"orient": "top", "values": [-85,-80,-75,-70,-65,-55,-50,-45,-40,-35,-25,-20,-15,-10,-5,5,10,15,20,25,35,40,45,50,55,65,70,75,80,85], "tickSize": -57, "labels": false, "title": null}},
  "y": {"field": "r", "type": "quantitative", "scale": {"domain": [6045, 6065], "nice": false, "zero": false},
        "axis": {"orient": "right", "values": [6046,6047,6048,6049,6051,6052,6053,6054,6056,6057,6058,6059,6061,6062,6063,6064], "tickSize": -57, "labels": false, "title": null}}
 }}
],
"resolve": {"axis": {"x": "independent", "y": "independent"}}
}
